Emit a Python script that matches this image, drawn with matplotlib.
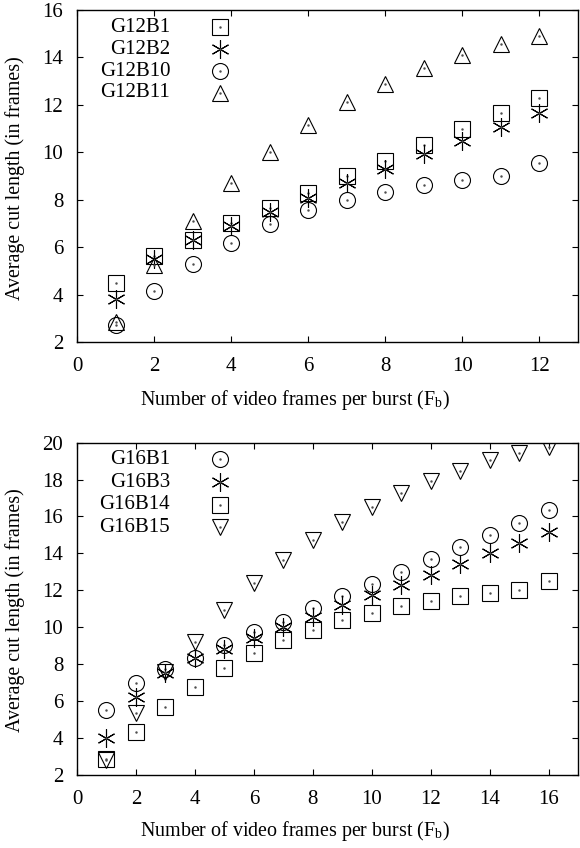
import matplotlib
matplotlib.use("Agg")
import matplotlib.pyplot as plt

plt.rcParams['font.family'] = ['Liberation Serif', 'DejaVu Serif']
plt.rcParams['mathtext.fontset'] = 'stix'

# G12 group, bursts of 1..12 frames
fb12 = [1, 2, 3, 4, 5, 6, 7, 8, 9, 10, 11, 12]
g12b1 = [4.5, 5.62, 6.32, 7.0, 7.67, 8.3, 9.0, 9.63, 10.3, 10.97, 11.64, 12.31]
g12b2 = [3.8, 5.48, 6.3, 6.89, 7.49, 8.08, 8.69, 9.29, 9.91, 10.49, 11.08, 11.67]
g12b10 = [2.7, 4.14, 5.27, 6.18, 6.96, 7.56, 7.98, 8.33, 8.64, 8.83, 9.0, 9.53]
g12b11 = [2.85, 5.24, 7.1, 8.69, 10.02, 11.15, 12.13, 12.9, 13.54, 14.1, 14.55, 14.92]

# G16 group, bursts of 1..16 frames
fb16 = list(range(1, 17))
g16b1 = [5.51, 6.96, 7.72, 8.31, 9.04, 9.76, 10.3, 11.02, 11.69, 12.32,
         12.97, 13.68, 14.33, 15.0, 15.66, 16.35]
g16b3 = [4.01, 6.23, 7.5, 8.31, 8.8, 9.4, 10.03, 10.57, 11.2, 11.75,
         12.29, 12.83, 13.43, 14.0, 14.58, 15.18]
g16b14 = [2.86, 4.34, 5.66, 6.78, 7.77, 8.58, 9.31, 9.85, 10.39, 10.79,
          11.15, 11.44, 11.69, 11.87, 12.02, 12.52]
g16b15 = [2.8, 5.33, 7.6, 9.21, 10.93, 12.41, 13.64, 14.73, 15.72, 16.53,
          17.29, 17.94, 18.48, 19.03, 19.42, 19.78]

star = (6, 2, 0)
ms = 11.5
fs = 15
label_fs = 14.4


def draw(ax, x, series, legend_y):
    for i, (label, y, mk) in enumerate(series):
        size = ms * 1.15 if mk == star else ms
        ax.plot(x, y, linestyle='none', marker=mk, markersize=size,
                markerfacecolor='none', markeredgecolor='black', markeredgewidth=0.8)
        ax.plot(x, y, linestyle='none', marker='.', markersize=1.5, color='0.3')
        # gnuplot-style key: right-aligned text, symbol to the right
        ax.text(0.186, legend_y[i], label, transform=ax.transAxes, ha='right',
                va='center', fontsize=fs)
        ax.plot([0.285], [legend_y[i]], transform=ax.transAxes, linestyle='none',
                marker=mk, markersize=size, markerfacecolor='none',
                markeredgecolor='black', markeredgewidth=0.8, clip_on=False)
        ax.plot([0.285], [legend_y[i]], transform=ax.transAxes, linestyle='none',
                marker='.', markersize=1.5, color='0.3')


def style(ax, xlab_y):
    ax.tick_params(direction='in', top=True, right=True, length=4, width=0.8,
                   labelsize=fs)
    ax.tick_params(axis='x', pad=11)
    ax.tick_params(axis='y', pad=10)
    for s in ax.spines.values():
        s.set_linewidth(1.0)
    ax.set_ylabel('Average cut length (in frames)', fontsize=label_fs)
    ax.set_xlabel('Number of video frames per burst (F$_\\mathregular{b}$)',
                  fontsize=label_fs)
    ax.xaxis.set_label_coords(0.435, xlab_y)
    ax.yaxis.set_label_coords(-0.104, 0.495)


fig = plt.figure(figsize=(5.8, 8.48), dpi=100)

ax1 = fig.add_axes([0.1328, 0.5967, 0.8638, 0.3915])
draw(ax1, fb12, [('G12B1', g12b1, 's'), ('G12B2', g12b2, star),
                 ('G12B10', g12b10, 'o'), ('G12B11', g12b11, '^')],
     [0.948, 0.882, 0.816, 0.751])
ax1.set_xlim(0, 13)
ax1.set_ylim(2, 16)
ax1.set_xticks(range(0, 13, 2))
ax1.set_yticks(range(2, 17, 2))
style(ax1, -0.14)

ax2 = fig.add_axes([0.1328, 0.0861, 0.8638, 0.392])
draw(ax2, fb16, [('G16B1', g16b1, 'o'), ('G16B3', g16b3, star),
                 ('G16B14', g16b14, 's'), ('G16B15', g16b15, 'v')],
     [0.95, 0.880, 0.8125, 0.746])
ax2.set_xlim(0, 17)
ax2.set_ylim(2, 20)
ax2.set_xticks(range(0, 17, 2))
ax2.set_yticks(range(2, 21, 2))
style(ax2, -0.132)

fig.savefig('out.png', dpi=100)
